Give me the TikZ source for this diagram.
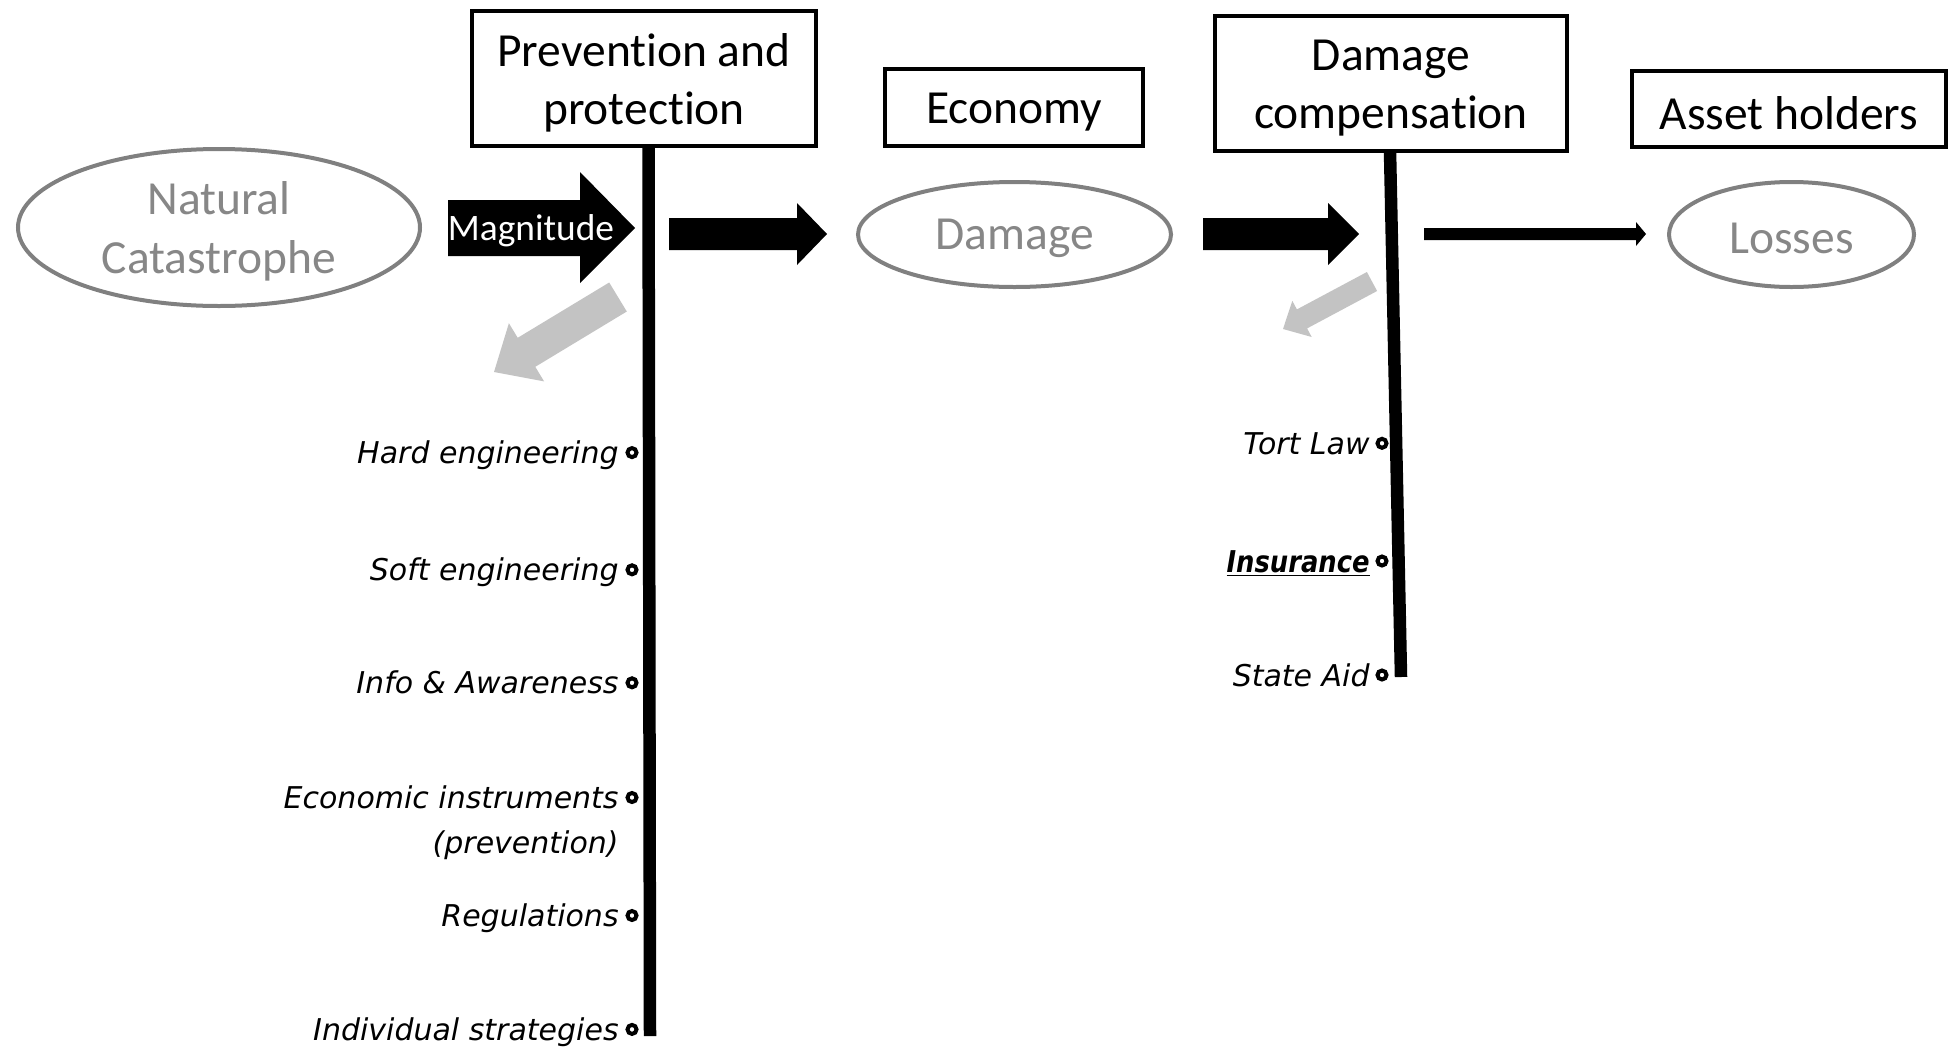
\documentclass[tikz,border=0pt]{standalone}
\usepackage{fontspec}
\setmainfont{Carlito}[Ligatures=NoCommon]
\newfontfamily\labfont{DejaVu Sans}
\usetikzlibrary{shapes.geometric}
\definecolor{ellgray}{RGB}{128,128,128}
\definecolor{txtgray}{RGB}{135,135,135}
\definecolor{arrgray}{RGB}{195,195,195}
\begin{document}
\begin{tikzpicture}[x=0.5pt,y=-0.5pt,
  hdr/.style={draw=black, line width=2pt, inner sep=0pt},
  hdrtxt/.style={align=center, inner sep=0pt, yshift=-2.2pt,
    font=\fontsize{23.75}{29.25}\selectfont},
  ell/.style={draw=ellgray, line width=2pt, ellipse, inner sep=0pt},
  elltxt/.style={text=txtgray, align=center, inner sep=0pt, yshift=-2pt,
    font=\fontsize{23.75}{29.25}\selectfont},
  vline/.style={line width=6.25pt},
  dotmark/.style={circle, draw=black, fill=white, line width=2pt,
    minimum size=4.5pt, inner sep=0pt},
  lab/.style={anchor=base east, inner sep=0pt,
    font=\labfont\itshape\fontsize{15}{18}\selectfont},
  fatarrow/.style={fill=black},
  grayarrow/.style={fill=arrgray}]
\useasboundingbox (0,0) rectangle (1953,1050);

% header boxes
\node[hdr, minimum width=172pt, minimum height=67.5pt] (prev) at (644,78.5) {};
\node[hdrtxt] (prevT) at (prev.center) {Prevention and\\protection};
\node[hdr, minimum width=129pt, minimum height=38.5pt] (econ) at (1014,107.5) {};
\node[hdrtxt] (econT) at (econ.center) {Economy};
\node[hdr, minimum width=176pt, minimum height=67.5pt] (dcomp) at (1391,83.5) {};
\node[hdrtxt] (dcompT) at (dcomp.center) {Damage\\compensation};
\node[hdr, minimum width=157pt, minimum height=38pt] (asset) at (1789,109) {};
\node[hdrtxt] (assetT) at (asset.center) {Asset holders};

% ellipses
\node[ell, minimum width=201pt, minimum height=78.5pt] (nat) at (219,227.5) {};
\node[elltxt] (natT) at (nat.center) {Natural\\Catastrophe};
\node[ell, minimum width=156.5pt, minimum height=52.5pt] (dam) at (1014.5,234.5) {};
\node[elltxt] (damT) at (dam.center) {Damage};
\node[ell, minimum width=122.5pt, minimum height=52.5pt] (loss) at (1791.5,234.5) {};
\node[elltxt] (lossT) at (loss.center) {Losses};

% vertical lines
\coordinate (v1top) at (648.5,146);
\coordinate (v1bot) at (650,1036);
\draw[vline] (v1top) -- (v1bot);
\coordinate (v2top) at (1390,151);
\coordinate (v2bot) at (1401,677);
\draw[vline] (v2top) -- (v2bot);

% black block arrows
\fill[fatarrow] (448,200) -- (580,200) -- (580,172) -- (635,228) -- (580,283) -- (580,256) -- (448,256) -- cycle;
\node[inner sep=0pt, text=white, font=\fontsize{18.7}{22}\selectfont] (mag) at (531,230.5) {Magnitude};
\fill[fatarrow] (669,218) -- (797,218) -- (797,203) -- (827,234) -- (797,265) -- (797,250) -- (669,250) -- cycle;
\fill[fatarrow] (1203,218) -- (1328,218) -- (1328,203) -- (1359,234) -- (1328,265) -- (1328,250) -- (1203,250) -- cycle;
\fill[fatarrow] (1424,228) -- (1636,228) -- (1636,222) -- (1646,234) -- (1636,246) -- (1636,240) -- (1424,240) -- cycle;

% grey block arrows
\fill[grayarrow] (626.8,311.5) -- (535.3,366.8) -- (544.1,381.4) -- (494,372) -- (508.9,323.2) -- (517.7,337.8) -- (609.2,282.5) -- cycle;
\fill[grayarrow] (1377.1,291.0) -- (1307.1,328.4) -- (1311.7,337.0) -- (1283,329) -- (1292.3,300.8) -- (1296.9,309.4) -- (1366.9,272.0) -- cycle;

% left list
\node[dotmark] (d1) at (632,452.6) {};
\node[lab] (l1) at (619,463.5) {Hard engineering};
\node[dotmark] (d2) at (632,569.8) {};
\node[lab] (l2) at (619,580.8) {Soft engineering};
\node[dotmark] (d3) at (632,682.8) {};
\node[lab] (l3) at (619,693.8) {Info \& Awareness};
\node[dotmark] (d4) at (632,797.5) {};
\node[lab] (l4) at (619,808.5) {Economic instruments};
\node[lab] (l4b) at (619,853.5) {(prevention)};
\node[dotmark] (d5) at (632,915.5) {};
\node[lab] (l5) at (619,926.5) {Regulations};
\node[dotmark] (d6) at (632,1029.4) {};
\node[lab] (l6) at (619,1040.5) {Individual strategies};

% right list
\node[dotmark] (r1) at (1382,443.3) {};
\node[lab] (t1) at (1370,454.5) {Tort Law};
\node[dotmark] (r2) at (1382,561) {};
\node[lab] (t2) at (1370,572) {\bfseries\scalebox{0.86}[1]{\underline{Insurance}}};
\node[dotmark] (r3) at (1382,675) {};
\node[lab] (t3) at (1370,686) {State Aid};
\end{tikzpicture}
\end{document}
